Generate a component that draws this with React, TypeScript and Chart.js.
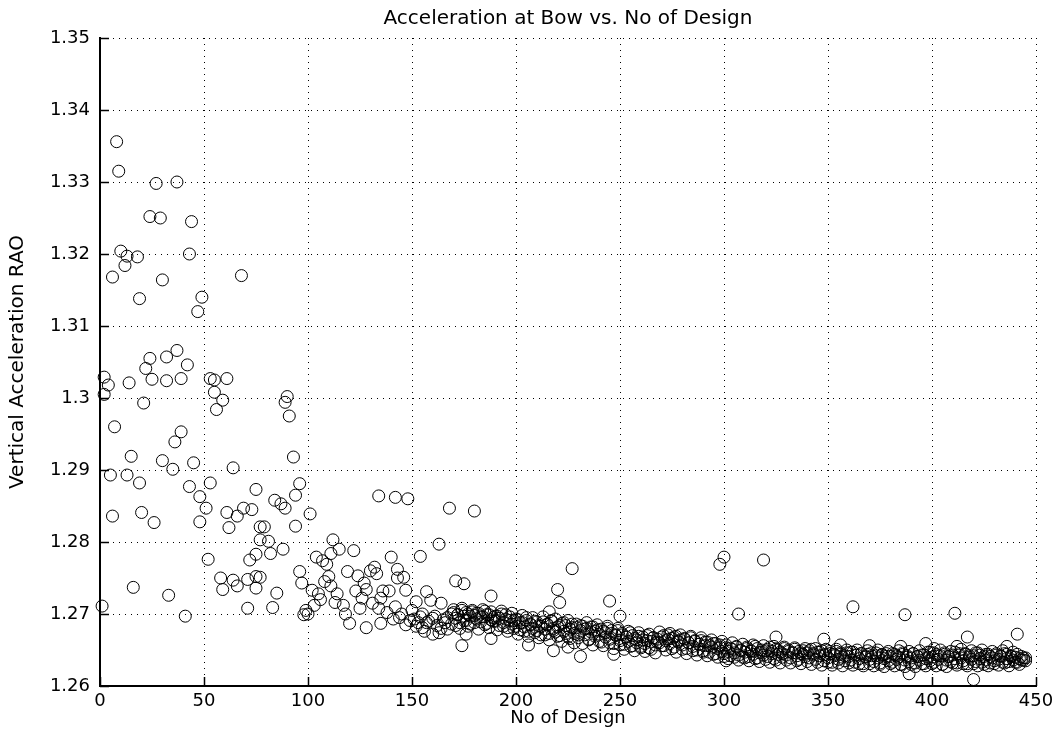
import React, { useEffect, useRef } from "react";
import { Chart, registerables } from "chart.js";

Chart.register(...registerables);

const FONT = "'DejaVu Sans', 'Liberation Sans', sans-serif";
const chartTitle = "Acceleration at Bow vs. No of Design";
const xAxisTitle = "No of Design";
const yAxisTitle = "Vertical Acceleration RAO";

const xTickValues = [0, 50, 100, 150, 200, 250, 300, 350, 400, 450];
const yTickValues = [1.26, 1.27, 1.28, 1.29, 1.3, 1.31, 1.32, 1.33, 1.34, 1.35];

// Scattered designs
const scatterDesigns = [
  1, 2, 2, 4, 5, 6, 6, 7, 8, 9, 10, 12, 13, 13, 14, 15, 16, 18, 19, 19,
  20, 21, 22, 24, 24, 25, 26, 27, 29, 30, 30, 32, 32, 33, 35, 36, 37, 37, 39, 39,
  41, 42, 43, 43, 44, 45, 47, 48, 48, 49, 51, 52, 53, 53, 55, 55, 56, 58, 59, 59,
  61, 61, 62, 64, 64, 66, 66, 68, 69, 71, 71, 72, 73, 75, 75, 75, 75, 77, 77, 77,
  79, 81, 82, 83, 84, 85, 87, 88, 89, 89, 90, 91, 93, 94, 94, 96, 96, 97, 98, 99,
  100, 101, 102, 103, 104, 105, 106, 107, 108, 109, 110, 111, 111, 112, 113, 114, 115, 117, 118, 119,
  120, 122, 123, 124, 125, 126, 127, 128, 128, 130, 131, 132, 133, 134, 134, 135, 135, 136, 138, 139,
  140, 142, 142, 143, 143, 144, 146, 147, 147, 148, 150, 151, 152, 153, 154, 155, 155, 156, 157, 158,
  159, 160, 161, 162, 163, 163, 164, 165, 166, 167, 168, 169,
  141, 145, 149, 152, 154, 157, 160, 164, 167, 169,
  171, 174, 175, 176, 180, 188, 188, 206, 216, 218, 220, 221, 225, 227, 231, 245, 247, 250,
  298, 300, 301, 307, 319, 325, 348, 356, 362, 370, 385, 387, 389, 397, 401, 411, 412, 417, 420, 436, 441,
];

const scatterValues = [
  1.2711, 1.3005, 1.3029, 1.3018, 1.2893, 1.3168, 1.2836, 1.2960, 1.3356, 1.3315, 1.3204, 1.3184, 1.3197, 1.2893, 1.3021, 1.2919, 1.2737, 1.3196, 1.2882, 1.3138,
  1.2841, 1.2993, 1.3041, 1.3055, 1.3252, 1.3026, 1.2827, 1.3298, 1.3250, 1.2913, 1.3164, 1.3057, 1.3024, 1.2726, 1.2901, 1.2939, 1.3066, 1.3300, 1.3027, 1.2953,
  1.2697, 1.3046, 1.3200, 1.2877, 1.3245, 1.2910, 1.3120, 1.2863, 1.2828, 1.3140, 1.2847, 1.2776, 1.2882, 1.3027, 1.3025, 1.3008, 1.2984, 1.2750, 1.2997, 1.2734,
  1.3027, 1.2841, 1.2820, 1.2903, 1.2747, 1.2836, 1.2739, 1.3170, 1.2847, 1.2748, 1.2708, 1.2775, 1.2845, 1.2873, 1.2752, 1.2736, 1.2783, 1.2821, 1.2803, 1.2751,
  1.2821, 1.2801, 1.2784, 1.2709, 1.2858, 1.2729, 1.2853, 1.2790, 1.2847, 1.2994, 1.3002, 1.2975, 1.2918, 1.2865, 1.2822, 1.2881, 1.2759, 1.2743, 1.2699, 1.2705,
  1.2700, 1.2839, 1.2733, 1.2712, 1.2779, 1.2728, 1.2720, 1.2774, 1.2745, 1.2769, 1.2752, 1.2784, 1.2739, 1.2803, 1.2716, 1.2728, 1.2790, 1.2712, 1.2700, 1.2759,
  1.2687, 1.2788, 1.2732, 1.2753, 1.2708, 1.2722, 1.2743, 1.2734, 1.2681, 1.2760, 1.2715, 1.2765, 1.2756, 1.2708, 1.2864, 1.2722, 1.2687, 1.2732, 1.2702, 1.2732,
  1.2779, 1.2862, 1.2710, 1.2762, 1.2750, 1.2695, 1.2751, 1.2685, 1.2733, 1.2860, 1.2705, 1.2693, 1.2717, 1.2688, 1.2780, 1.2700, 1.2681, 1.2676, 1.2731, 1.2690,
  1.2719, 1.2672, 1.2697, 1.2684, 1.2797, 1.2674, 1.2715, 1.2692, 1.2688, 1.2679, 1.2847, 1.2700,
  1.2693, 1.2700, 1.2691, 1.2683, 1.2696, 1.2688, 1.2694, 1.2680, 1.2695, 1.2686,
  1.2746, 1.2656, 1.2742, 1.2672, 1.2843, 1.2666, 1.2725, 1.2657, 1.2703, 1.2649, 1.2734, 1.2716, 1.2654, 1.2763, 1.2641, 1.2718, 1.2644, 1.2697,
  1.2769, 1.2779, 1.2635, 1.2700, 1.2775, 1.2668, 1.2665, 1.2657, 1.2710, 1.2656, 1.2655, 1.2699, 1.2617, 1.2659, 1.2652, 1.2701, 1.2655, 1.2668, 1.2609, 1.2655, 1.2672,
];

// Dense converged band, two overlapping runs, one value per design from design 170
const bandFirstDesign = 170;
const bandRunA = [
  1.2702, 1.2694, 1.2699, 1.2688, 1.2705, 1.2697, 1.2691, 1.2700, 1.2686, 1.2703,
  1.2698, 1.2693, 1.2701, 1.2689, 1.2696, 1.2704, 1.2687, 1.2699, 1.2692, 1.2695,
  1.2690, 1.2697, 1.2684, 1.2700, 1.2688, 1.2693, 1.2681, 1.2696, 1.2686, 1.2691,
  1.2683, 1.2692, 1.2678, 1.2688, 1.2682, 1.2695, 1.2676, 1.2686, 1.2680, 1.2690,
  1.2677, 1.2684, 1.2671, 1.2689, 1.2679, 1.2685, 1.2673, 1.2691, 1.2680, 1.2675,
  1.2682, 1.2670, 1.2687, 1.2676, 1.2684, 1.2668, 1.2679, 1.2686, 1.2673, 1.2681,
  1.2667, 1.2677, 1.2683, 1.2671, 1.2680, 1.2664, 1.2675, 1.2682, 1.2669, 1.2678,
  1.2672, 1.2661, 1.2676, 1.2668, 1.2680, 1.2665, 1.2673, 1.2659, 1.2670, 1.2677,
  1.2663, 1.2671, 1.2658, 1.2668, 1.2662, 1.2674, 1.2656, 1.2666, 1.2660, 1.2669,
  1.2655, 1.2664, 1.2659, 1.2670, 1.2653, 1.2662, 1.2667, 1.2657, 1.2665, 1.2660,
  1.2668, 1.2656, 1.2663, 1.2671, 1.2659, 1.2666, 1.2654, 1.2669, 1.2661, 1.2664,
  1.2657, 1.2665, 1.2652, 1.2660, 1.2667, 1.2655, 1.2662, 1.2650, 1.2658, 1.2663,
  1.2649, 1.2656, 1.2661, 1.2647, 1.2654, 1.2659, 1.2645, 1.2652, 1.2657, 1.2648,
  1.2645, 1.2653, 1.2648, 1.2642, 1.2651, 1.2646, 1.2654, 1.2643, 1.2649, 1.2640,
  1.2647, 1.2652, 1.2641, 1.2648, 1.2644, 1.2655, 1.2639, 1.2646, 1.2650, 1.2643,
  1.2649, 1.2641, 1.2654, 1.2645, 1.2638, 1.2651, 1.2644, 1.2647, 1.2640, 1.2652,
  1.2643, 1.2648, 1.2639, 1.2646, 1.2651, 1.2642, 1.2637, 1.2645, 1.2649, 1.2641,
  1.2646, 1.2639, 1.2651, 1.2643, 1.2637, 1.2647, 1.2642, 1.2649, 1.2635, 1.2644,
  1.2639, 1.2645, 1.2633, 1.2642, 1.2648, 1.2637, 1.2644, 1.2640, 1.2635, 1.2646,
  1.2641, 1.2636, 1.2647, 1.2633, 1.2643, 1.2638, 1.2645, 1.2631, 1.2640, 1.2644,
  1.2637, 1.2642, 1.2634, 1.2646, 1.2639, 1.2632, 1.2643, 1.2638, 1.2645, 1.2635,
  1.2641, 1.2633, 1.2644, 1.2637, 1.2640, 1.2630, 1.2646, 1.2636, 1.2642, 1.2634,
  1.2639, 1.2645, 1.2632, 1.2641, 1.2636, 1.2643, 1.2631, 1.2638, 1.2647, 1.2635,
  1.2640, 1.2633, 1.2644, 1.2637, 1.2642, 1.2630, 1.2646, 1.2636, 1.2641, 1.2634,
  1.2643, 1.2638, 1.2632, 1.2645, 1.2639, 1.2635, 1.2644, 1.2631, 1.2640, 1.2637,
  1.2642, 1.2634, 1.2646, 1.2638, 1.2633, 1.2641, 1.2636, 1.2644, 1.2632, 1.2639,
  1.2635, 1.2643, 1.2637, 1.2641, 1.2633, 1.2645, 1.2638, 1.2634, 1.2642, 1.2636,
  1.2640, 1.2633, 1.2638, 1.2636, 1.2639, 1.2635,
];

const bandRunB = [
  1.2706, 1.2684, 1.2699, 1.2680, 1.2708, 1.2691, 1.2702, 1.2683, 1.2697, 1.2705,
  1.2688, 1.2701, 1.2679, 1.2696, 1.2706, 1.2685, 1.2699, 1.2681, 1.2703, 1.2690,
  1.2697, 1.2678, 1.2694, 1.2704, 1.2683, 1.2699, 1.2676, 1.2691, 1.2701, 1.2680,
  1.2693, 1.2672, 1.2688, 1.2698, 1.2676, 1.2691, 1.2669, 1.2685, 1.2695, 1.2674,
  1.2689, 1.2667, 1.2683, 1.2696, 1.2671, 1.2686, 1.2664, 1.2690, 1.2677, 1.2693,
  1.2669, 1.2684, 1.2662, 1.2688, 1.2673, 1.2691, 1.2666, 1.2681, 1.2660, 1.2686,
  1.2671, 1.2684, 1.2659, 1.2679, 1.2688, 1.2665, 1.2682, 1.2657, 1.2676, 1.2685,
  1.2662, 1.2679, 1.2656, 1.2674, 1.2683, 1.2660, 1.2677, 1.2652, 1.2671, 1.2680,
  1.2657, 1.2673, 1.2651, 1.2668, 1.2676, 1.2655, 1.2670, 1.2649, 1.2664, 1.2674,
  1.2653, 1.2668, 1.2648, 1.2663, 1.2672, 1.2651, 1.2667, 1.2646, 1.2661, 1.2675,
  1.2656, 1.2670, 1.2650, 1.2665, 1.2673, 1.2652, 1.2668, 1.2647, 1.2662, 1.2671,
  1.2651, 1.2666, 1.2645, 1.2660, 1.2669, 1.2649, 1.2663, 1.2643, 1.2658, 1.2667,
  1.2647, 1.2661, 1.2642, 1.2656, 1.2664, 1.2644, 1.2659, 1.2640, 1.2654, 1.2662,
  1.2641, 1.2657, 1.2638, 1.2652, 1.2660, 1.2640, 1.2655, 1.2636, 1.2650, 1.2658,
  1.2639, 1.2654, 1.2635, 1.2649, 1.2657, 1.2638, 1.2652, 1.2634, 1.2647, 1.2656,
  1.2637, 1.2651, 1.2633, 1.2648, 1.2655, 1.2636, 1.2650, 1.2632, 1.2645, 1.2654,
  1.2636, 1.2650, 1.2632, 1.2646, 1.2653, 1.2635, 1.2648, 1.2631, 1.2644, 1.2652,
  1.2634, 1.2649, 1.2630, 1.2645, 1.2652, 1.2633, 1.2647, 1.2629, 1.2643, 1.2651,
  1.2633, 1.2648, 1.2629, 1.2644, 1.2651, 1.2632, 1.2646, 1.2628, 1.2642, 1.2650,
  1.2632, 1.2647, 1.2629, 1.2643, 1.2650, 1.2631, 1.2645, 1.2628, 1.2641, 1.2649,
  1.2631, 1.2646, 1.2628, 1.2642, 1.2650, 1.2630, 1.2644, 1.2627, 1.2641, 1.2648,
  1.2631, 1.2645, 1.2628, 1.2642, 1.2649, 1.2630, 1.2644, 1.2627, 1.2640, 1.2648,
  1.2630, 1.2645, 1.2627, 1.2641, 1.2649, 1.2631, 1.2643, 1.2628, 1.2640, 1.2647,
  1.2631, 1.2646, 1.2628, 1.2642, 1.2650, 1.2630, 1.2644, 1.2627, 1.2641, 1.2648,
  1.2632, 1.2647, 1.2629, 1.2643, 1.2651, 1.2631, 1.2645, 1.2628, 1.2642, 1.2649,
  1.2631, 1.2646, 1.2628, 1.2643, 1.2650, 1.2630, 1.2644, 1.2628, 1.2641, 1.2648,
  1.2631, 1.2645, 1.2629, 1.2642, 1.2649, 1.2632, 1.2644, 1.2628, 1.2641, 1.2647,
  1.2633, 1.2644, 1.2630, 1.2641, 1.2636, 1.2639,
];

const titlePlugin = {
  id: "matlabTitle",
  afterDraw(chart: any) {
    const { ctx, chartArea } = chart;
    ctx.save();
    ctx.font = `20px ${FONT}`;
    ctx.fillStyle = "#000";
    ctx.textAlign = "center";
    ctx.textBaseline = "middle";
    ctx.fillText(chartTitle, (chartArea.left + chartArea.right) / 2, 19);
    ctx.restore();
  },
};

const inwardTicksPlugin = {
  id: "inwardTicks",
  beforeDatasetsDraw(chart: any) {
    const { ctx, chartArea } = chart;
    const xs = chart.scales.x;
    const ys = chart.scales.y;
    ctx.save();
    ctx.strokeStyle = "#000";
    ctx.lineWidth = 1.5;
    ctx.setLineDash([]);
    ctx.beginPath();
    xs.ticks.forEach((t: any) => {
      const px = Math.round(xs.getPixelForValue(t.value)) + 0.5;
      ctx.moveTo(px, chartArea.bottom);
      ctx.lineTo(px, chartArea.bottom - 9);
    });
    ys.ticks.forEach((t: any) => {
      const py = Math.round(ys.getPixelForValue(t.value)) + 0.5;
      ctx.moveTo(chartArea.left, py);
      ctx.lineTo(chartArea.left + 9, py);
    });
    ctx.stroke();
    ctx.restore();
  },
};

export default function App() {
  const ref = useRef<HTMLCanvasElement>(null);

  useEffect(() => {
    const points: { x: number; y: number }[] = [];
    for (let i = 0; i < scatterDesigns.length; i++) {
      points.push({ x: scatterDesigns[i], y: scatterValues[i] });
    }
    for (let i = 0; i < bandRunA.length; i++) {
      points.push({ x: bandFirstDesign + i, y: bandRunA[i] });
    }
    for (let i = 0; i < bandRunB.length; i++) {
      points.push({ x: bandFirstDesign + i, y: bandRunB[i] });
    }

    const gridCommon = { color: "#000", lineWidth: 1, drawTicks: false };
    const borderCommon = { display: true, color: "#000", width: 2, dash: [1, 5] };

    const chart = new Chart(ref.current as HTMLCanvasElement, {
      type: "scatter",
      data: {
        datasets: [
          {
            data: points,
            pointStyle: "circle",
            pointRadius: 6,
            pointHoverRadius: 6,
            pointBorderWidth: 1,
            pointBorderColor: "#000",
            pointBackgroundColor: "rgba(0,0,0,0)",
            borderColor: "#000",
            backgroundColor: "rgba(0,0,0,0)",
            clip: false,
          } as any,
        ],
      },
      options: {
        responsive: false,
        animation: false,
        devicePixelRatio: 1,
        events: [],
        layout: { padding: { top: 38, right: 23, left: 0, bottom: 0 } },
        plugins: {
          legend: { display: false },
          tooltip: { enabled: false },
          title: { display: false },
        },
        scales: {
          x: {
            type: "linear",
            min: 0,
            max: 450,
            afterBuildTicks: (s: any) => {
              s.ticks = xTickValues.map((v) => ({ value: v }));
            },
            afterFit: (s: any) => {
              s.height = 52;
            },
            grid: gridCommon,
            border: borderCommon,
            ticks: {
              color: "#000",
              padding: 5,
              maxRotation: 0,
              font: { family: FONT, size: 18 },
              callback: (v: any) => String(v),
            },
            title: {
              display: true,
              text: xAxisTitle,
              color: "#000",
              font: { family: FONT, size: 18 },
              padding: { top: 0, bottom: 9 },
            },
          },
          y: {
            type: "linear",
            min: 1.26,
            max: 1.35,
            afterBuildTicks: (s: any) => {
              s.ticks = yTickValues.map((v) => ({ value: v }));
            },
            afterFit: (s: any) => {
              s.width = 100;
            },
            grid: gridCommon,
            border: borderCommon,
            ticks: {
              color: "#000",
              padding: 10,
              font: { family: FONT, size: 18 },
              callback: (v: any) => String(Number(Number(v).toFixed(2))),
            },
            title: {
              display: true,
              text: yAxisTitle,
              color: "#000",
              font: { family: FONT, size: 20 },
              padding: { top: 6, bottom: 0 },
            },
          },
        },
      } as any,
      plugins: [titlePlugin, inwardTicksPlugin],
    });
    return () => chart.destroy();
  }, []);

  return (
    <div
      style={{
        position: "fixed",
        left: 0,
        top: 0,
        width: 1059,
        height: 738,
        background: "#fff",
      }}
    >
      <canvas ref={ref} width={1059} height={738} style={{ display: "block" }} />
    </div>
  );
}
